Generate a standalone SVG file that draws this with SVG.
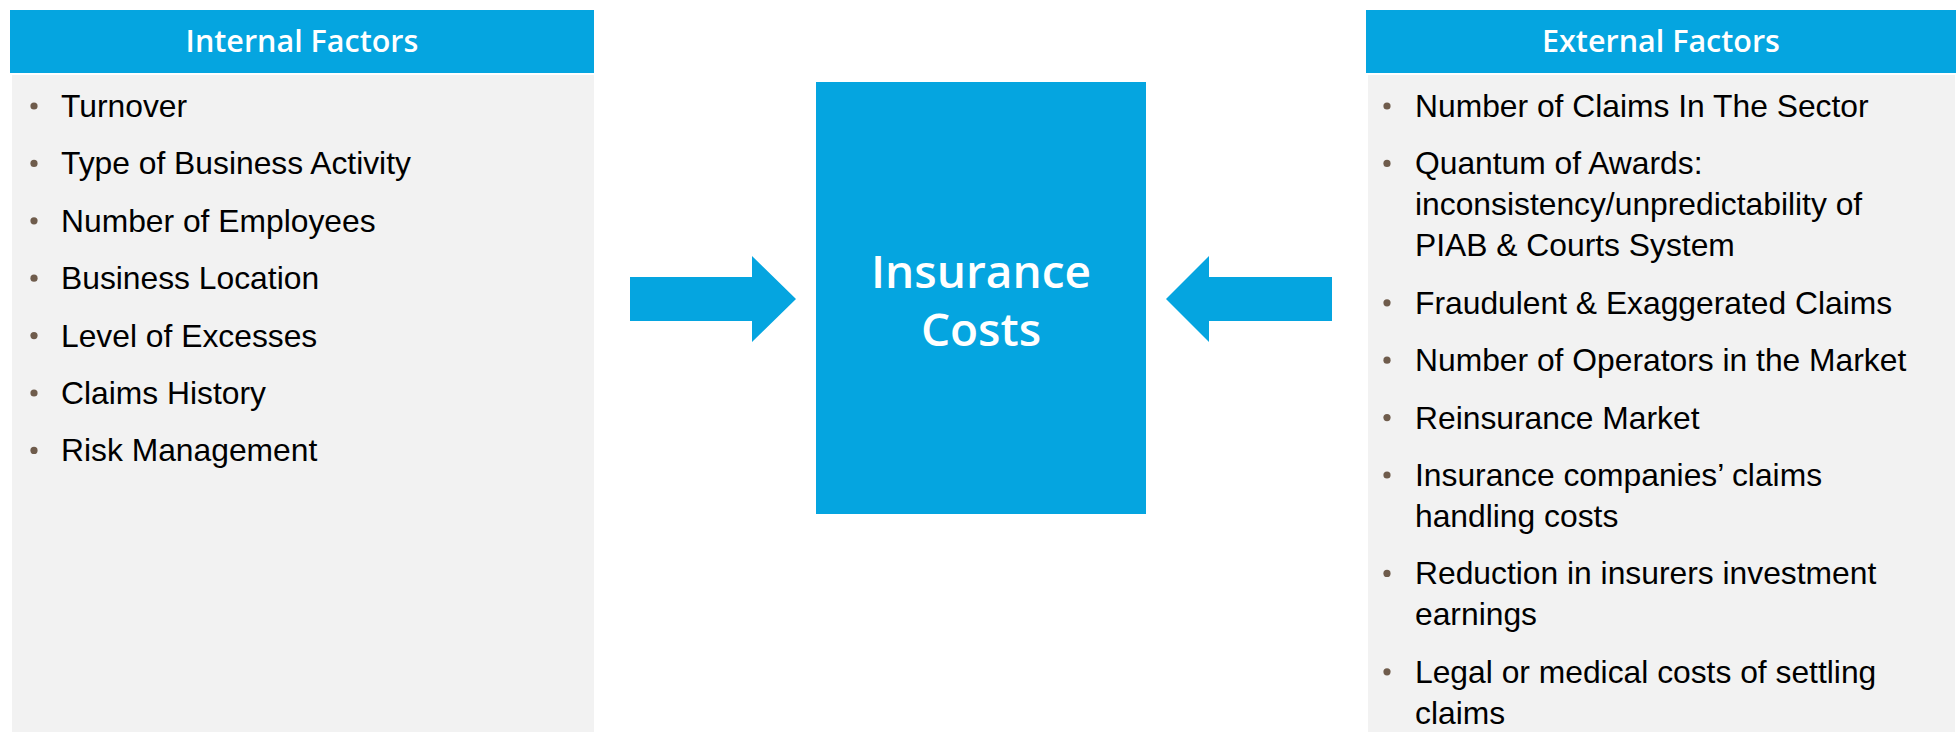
<svg xmlns="http://www.w3.org/2000/svg" width="1957" height="732" viewBox="0 0 1957 732">
<defs>
<style>
.hdr{fill:#05A5E0}
.panel{fill:#F2F2F2}
.htxt{font-family:"Open Sans","Noto Sans",sans-serif;font-weight:600;font-size:30.5px;fill:#FFFFFF;text-anchor:middle}
.btxt{font-family:"Liberation Sans",Arial,sans-serif;font-size:31.8px;fill:#000000}
.dot{fill:#6F5C4C}
.ctxt{font-family:"Open Sans","Noto Sans",sans-serif;font-weight:600;font-size:46px;fill:#FFFFFF;text-anchor:middle}
.arrow{fill:#05A5E0}
</style>
</defs>
<rect x="0" y="0" width="1957" height="732" fill="#FFFFFF"/>
<g id="internal-factors">
<rect class="hdr" x="10" y="10" width="584" height="63"/>
<text class="htxt" x="302" y="52">Internal Factors</text>
<rect class="panel" x="12" y="75" width="582" height="657"/>
<circle class="dot" cx="34" cy="106" r="3.6"/>
<circle class="dot" cx="34" cy="163.4" r="3.6"/>
<circle class="dot" cx="34" cy="220.8" r="3.6"/>
<circle class="dot" cx="34" cy="278.2" r="3.6"/>
<circle class="dot" cx="34" cy="335.6" r="3.6"/>
<circle class="dot" cx="34" cy="393" r="3.6"/>
<circle class="dot" cx="34" cy="450.4" r="3.6"/>
<text class="btxt" x="61" y="117">Turnover</text>
<text class="btxt" x="61" y="174.4">Type of Business Activity</text>
<text class="btxt" x="61" y="231.8">Number of Employees</text>
<text class="btxt" x="61" y="289.2">Business Location</text>
<text class="btxt" x="61" y="346.6">Level of Excesses</text>
<text class="btxt" x="61" y="404">Claims History</text>
<text class="btxt" x="61" y="461.4">Risk Management</text>
</g>
<g id="insurance-costs">
<rect class="hdr" x="816" y="82" width="330" height="432"/>
<text class="ctxt" x="981" y="288">Insurance</text>
<text class="ctxt" x="981" y="346">Costs</text>
</g>
<g id="external-factors">
<rect class="hdr" x="1366" y="10" width="590" height="63"/>
<text class="htxt" x="1661" y="52">External Factors</text>
<rect class="panel" x="1368" y="75" width="587" height="657"/>
<circle class="dot" cx="1387" cy="106" r="3.6"/>
<circle class="dot" cx="1387" cy="163.4" r="3.6"/>
<circle class="dot" cx="1387" cy="302.8" r="3.6"/>
<circle class="dot" cx="1387" cy="360.2" r="3.6"/>
<circle class="dot" cx="1387" cy="417.6" r="3.6"/>
<circle class="dot" cx="1387" cy="475" r="3.6"/>
<circle class="dot" cx="1387" cy="573.4" r="3.6"/>
<circle class="dot" cx="1387" cy="671.8" r="3.6"/>
<text class="btxt" x="1415" y="117">Number of Claims In The Sector</text>
<text class="btxt" x="1415" y="174.4">Quantum of Awards:</text>
<text class="btxt" x="1415" y="215.4">inconsistency/unpredictability of</text>
<text class="btxt" x="1415" y="256.4">PIAB &amp; Courts System</text>
<text class="btxt" x="1415" y="313.8">Fraudulent &amp; Exaggerated Claims</text>
<text class="btxt" x="1415" y="371.2">Number of Operators in the Market</text>
<text class="btxt" x="1415" y="428.6">Reinsurance Market</text>
<text class="btxt" x="1415" y="486">Insurance companies’ claims</text>
<text class="btxt" x="1415" y="527">handling costs</text>
<text class="btxt" x="1415" y="584.4">Reduction in insurers investment</text>
<text class="btxt" x="1415" y="625.4">earnings</text>
<text class="btxt" x="1415" y="682.8">Legal or medical costs of settling</text>
<text class="btxt" x="1415" y="723.8">claims</text>
</g>
<g id="connectors">
<polygon class="arrow" points="630,277 752,277 752,256 796,299 752,342 752,321 630,321"/>
<polygon class="arrow" points="1332,277 1209,277 1209,256 1166,299 1209,342 1209,321 1332,321"/>
</g>
</svg>
